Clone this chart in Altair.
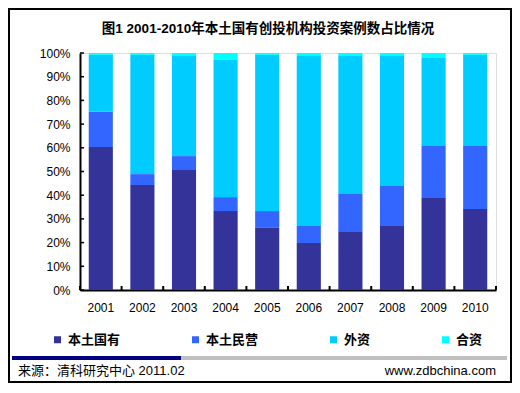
import altair as alt
import pandas as pd

years = ["2001", "2002", "2003", "2004", "2005", "2006", "2007", "2008", "2009", "2010"]
series = ["本土国有", "本土民营", "外资", "合资"]
colors = ["#333399", "#3366FF", "#00CCFF", "#00FFFF"]
state_owned = [60.3, 44.3, 50.6, 33.3, 26.2, 19.8, 24.5, 27.0, 38.8, 34.2]
private = [14.9, 4.6, 5.9, 5.9, 7.1, 7.2, 16.0, 16.9, 22.0, 26.6]
foreign = [24.0, 50.3, 42.2, 57.8, 65.9, 71.7, 58.2, 54.8, 37.1, 38.4]
joint = [0.8, 0.8, 1.3, 3.0, 0.8, 1.3, 1.3, 1.3, 2.1, 0.8]
y_ticks = [0, 0.1, 0.2, 0.3, 0.4, 0.5, 0.6, 0.7, 0.8, 0.9, 1.0]
x_bounds = list(range(len(years) + 1))

title_text = "图1 2001-2010年本土国有创投机构投资案例数占比情况"
source_text = "来源：清科研究中心 2011.02"
site_text = "www.zdbchina.com"

rows = []
for si, (name, vals) in enumerate(zip(series, [state_owned, private, foreign, joint])):
    for y, v in zip(years, vals):
        rows.append({"year": y, "series": name, "value": v, "idx": si})
df = pd.DataFrame(rows)

W, H = 416, 237
latin_cjk = "Liberation Sans, Noto Sans CJK SC"

y_axis = alt.Axis(values=y_ticks, format=".0%", ticks=False, labelPadding=10,
                  labelFont="Liberation Sans", labelFontSize=12, labelColor="black",
                  domainColor="black", domainWidth=2, grid=False)

bars = alt.Chart(df).mark_bar().encode(
    x=alt.X("year:N", title="", sort=years,
            scale=alt.Scale(paddingInner=0.42, paddingOuter=0.21),
            axis=alt.Axis(labelAngle=0, ticks=False, labelPadding=12,
                          labelFont="Liberation Sans", labelFontSize=12, labelColor="black",
                          domainColor="black", domainWidth=2, grid=False)),
    y=alt.Y("value:Q", stack="normalize", title="",
            scale=alt.Scale(domain=[0, 1]), axis=y_axis),
    color=alt.Color("series:N", scale=alt.Scale(domain=series, range=colors),
                    legend=alt.Legend(orient="none", legendX=-29, legendY=280,
                                      direction="horizontal", columns=4, columnPadding=68,
                                      symbolType="square", symbolSize=49, symbolStrokeWidth=0,
                                      labelFont=latin_cjk, labelFontSize=13,
                                      labelFontWeight="bold", labelColor="black",
                                      labelOffset=4, title=None)),
    order=alt.Order("idx:Q", sort="ascending"),
)

ytick_rules = alt.Chart(pd.DataFrame({"t": y_ticks})).mark_rule(color="black", strokeWidth=1.5).encode(
    y=alt.Y("t:Q", title="", axis=y_axis),
    x=alt.value(0),
    x2=alt.value(4),
)

xtick_rules = alt.Chart(pd.DataFrame({"b": x_bounds})).mark_rule(color="black", strokeWidth=2).encode(
    x=alt.X("b:Q", scale=alt.Scale(domain=[0, len(years)]), axis=None),
    y=alt.value(H),
    y2=alt.value(H - 4),
)

one = pd.DataFrame({"a": [1]})

title = alt.Chart(one).mark_text(font=latin_cjk, fontSize=13.5, fontWeight="bold",
                                 align="center", baseline="middle", color="black").encode(
    x=alt.value(188), y=alt.value(-24), text=alt.value(title_text))

bar_navy = alt.Chart(one).mark_rect(color="#000080").encode(
    x=alt.value(-68), x2=alt.value(101), y=alt.value(303), y2=alt.value(307))
bar_grey = alt.Chart(one).mark_rect(color="#C0C0C0").encode(
    x=alt.value(101), x2=alt.value(427), y=alt.value(303), y2=alt.value(307))

src = alt.Chart(one).mark_text(font=latin_cjk, fontSize=13, align="left",
                               baseline="middle", color="black").encode(
    x=alt.value(-62), y=alt.value(318), text=alt.value(source_text))
site = alt.Chart(one).mark_text(font="Liberation Sans", fontSize=13, align="right",
                                baseline="middle", color="black").encode(
    x=alt.value(416), y=alt.value(318), text=alt.value(site_text))

border = alt.Chart(one).mark_rect(fill="transparent", stroke="black", strokeWidth=2).encode(
    x=alt.value(-71), x2=alt.value(431), y=alt.value(-44), y2=alt.value(329))

chart = alt.layer(
    border, bars, ytick_rules, xtick_rules, title, bar_navy, bar_grey, src, site
).resolve_scale(x="independent").properties(
    width=W, height=H,
    padding={"left": 72, "top": 45, "right": 16, "bottom": 95},
    autosize=alt.AutoSizeParams(type="none"),
).configure_view(stroke=None).configure(background="white")

chart.save("out.html", embed_options={"renderer": "svg", "actions": False})
